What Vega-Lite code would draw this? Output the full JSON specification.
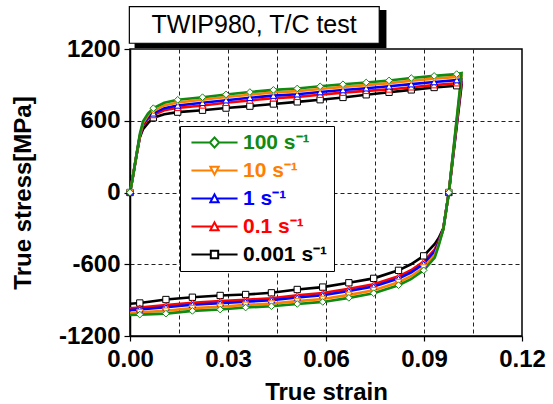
{
"$schema": "https://vega.github.io/schema/vega-lite/v6.json",
"width": 392, "height": 287,
"autosize": {"type": "none"},
"padding": {"left": 130, "top": 49, "right": 31, "bottom": 68},
"background": "white",
"config": {
  "font": "Liberation Sans",
  "view": {"stroke": "black", "strokeWidth": 1.5},
  "axis": {"domainColor": "black", "domainWidth": 1.5, "tickColor": "black", "tickWidth": 1.2,
    "labelFont": "Liberation Sans", "labelFontSize": 24, "labelFontWeight": "bold", "labelColor": "black",
    "titleFont": "Liberation Sans", "titleFontSize": 24, "titleFontWeight": "bold", "titleColor": "black",
    "gridColor": "#222222", "gridDash": [4, 3], "gridWidth": 1, "labelFlush": false, "labelOverlap": false, "labelBound": false}
},
"datasets": {
"curves": [
{"rate":"0.001 s\u207b\u00b9","strain":0,"stress":0},{"rate":"0.001 s\u207b\u00b9","strain":0.001,"stress":150},{"rate":"0.001 s\u207b\u00b9","strain":0.002,"stress":312},{"rate":"0.001 s\u207b\u00b9","strain":0.003,"stress":460},{"rate":"0.001 s\u207b\u00b9","strain":0.004,"stress":530},{"rate":"0.001 s\u207b\u00b9","strain":0.0055,"stress":580},{"rate":"0.001 s\u207b\u00b9","strain":0.00715,"stress":625},{"rate":"0.001 s\u207b\u00b9","strain":0.0105,"stress":655},{"rate":"0.001 s\u207b\u00b9","strain":0.0146,"stress":672},{"rate":"0.001 s\u207b\u00b9","strain":0.0222,"stress":688},{"rate":"0.001 s\u207b\u00b9","strain":0.0294,"stress":706},{"rate":"0.001 s\u207b\u00b9","strain":0.0367,"stress":722},{"rate":"0.001 s\u207b\u00b9","strain":0.0439,"stress":740},{"rate":"0.001 s\u207b\u00b9","strain":0.0512,"stress":758},{"rate":"0.001 s\u207b\u00b9","strain":0.0582,"stress":776},{"rate":"0.001 s\u207b\u00b9","strain":0.0652,"stress":795},{"rate":"0.001 s\u207b\u00b9","strain":0.0723,"stress":817},{"rate":"0.001 s\u207b\u00b9","strain":0.0793,"stress":838},{"rate":"0.001 s\u207b\u00b9","strain":0.0861,"stress":858},{"rate":"0.001 s\u207b\u00b9","strain":0.0931,"stress":878},{"rate":"0.001 s\u207b\u00b9","strain":0.1,"stress":893},{"rate":"0.001 s\u207b\u00b9","strain":0.1015,"stress":898},{"rate":"0.001 s\u207b\u00b9","strain":0.0976,"stress":0},{"rate":"0.001 s\u207b\u00b9","strain":0.0959,"stress":-300},{"rate":"0.001 s\u207b\u00b9","strain":0.0945,"stress":-380},{"rate":"0.001 s\u207b\u00b9","strain":0.0933,"stress":-430},{"rate":"0.001 s\u207b\u00b9","strain":0.0899,"stress":-530},{"rate":"0.001 s\u207b\u00b9","strain":0.086,"stress":-600},{"rate":"0.001 s\u207b\u00b9","strain":0.0822,"stress":-651},{"rate":"0.001 s\u207b\u00b9","strain":0.0746,"stress":-718},{"rate":"0.001 s\u207b\u00b9","strain":0.067,"stress":-755},{"rate":"0.001 s\u207b\u00b9","strain":0.059,"stress":-791},{"rate":"0.001 s\u207b\u00b9","strain":0.0512,"stress":-811},{"rate":"0.001 s\u207b\u00b9","strain":0.0433,"stress":-839},{"rate":"0.001 s\u207b\u00b9","strain":0.0354,"stress":-853},{"rate":"0.001 s\u207b\u00b9","strain":0.0276,"stress":-861},{"rate":"0.001 s\u207b\u00b9","strain":0.0191,"stress":-876},{"rate":"0.001 s\u207b\u00b9","strain":0.011,"stress":-895},{"rate":"0.001 s\u207b\u00b9","strain":0.003,"stress":-924},{"rate":"0.001 s\u207b\u00b9","strain":0,"stress":-930},
{"rate":"0.1 s\u207b\u00b9","strain":0,"stress":0},{"rate":"0.1 s\u207b\u00b9","strain":0.001,"stress":150},{"rate":"0.1 s\u207b\u00b9","strain":0.002,"stress":314},{"rate":"0.1 s\u207b\u00b9","strain":0.003,"stress":465},{"rate":"0.1 s\u207b\u00b9","strain":0.004,"stress":560},{"rate":"0.1 s\u207b\u00b9","strain":0.0055,"stress":615},{"rate":"0.1 s\u207b\u00b9","strain":0.00715,"stress":648},{"rate":"0.1 s\u207b\u00b9","strain":0.0105,"stress":688},{"rate":"0.1 s\u207b\u00b9","strain":0.0146,"stress":708},{"rate":"0.1 s\u207b\u00b9","strain":0.0222,"stress":728},{"rate":"0.1 s\u207b\u00b9","strain":0.0294,"stress":750},{"rate":"0.1 s\u207b\u00b9","strain":0.0367,"stress":770},{"rate":"0.1 s\u207b\u00b9","strain":0.0439,"stress":788},{"rate":"0.1 s\u207b\u00b9","strain":0.0512,"stress":800},{"rate":"0.1 s\u207b\u00b9","strain":0.0582,"stress":818},{"rate":"0.1 s\u207b\u00b9","strain":0.0652,"stress":835},{"rate":"0.1 s\u207b\u00b9","strain":0.0723,"stress":850},{"rate":"0.1 s\u207b\u00b9","strain":0.0793,"stress":862},{"rate":"0.1 s\u207b\u00b9","strain":0.0861,"stress":880},{"rate":"0.1 s\u207b\u00b9","strain":0.0931,"stress":898},{"rate":"0.1 s\u207b\u00b9","strain":0.1,"stress":914},{"rate":"0.1 s\u207b\u00b9","strain":0.1015,"stress":920},{"rate":"0.1 s\u207b\u00b9","strain":0.0976,"stress":0},{"rate":"0.1 s\u207b\u00b9","strain":0.0959,"stress":-304},{"rate":"0.1 s\u207b\u00b9","strain":0.0945,"stress":-406},{"rate":"0.1 s\u207b\u00b9","strain":0.0933,"stress":-476},{"rate":"0.1 s\u207b\u00b9","strain":0.0899,"stress":-578},{"rate":"0.1 s\u207b\u00b9","strain":0.086,"stress":-650},{"rate":"0.1 s\u207b\u00b9","strain":0.0822,"stress":-701},{"rate":"0.1 s\u207b\u00b9","strain":0.0746,"stress":-768},{"rate":"0.1 s\u207b\u00b9","strain":0.067,"stress":-805},{"rate":"0.1 s\u207b\u00b9","strain":0.059,"stress":-841},{"rate":"0.1 s\u207b\u00b9","strain":0.0512,"stress":-859},{"rate":"0.1 s\u207b\u00b9","strain":0.0433,"stress":-884},{"rate":"0.1 s\u207b\u00b9","strain":0.0354,"stress":-897},{"rate":"0.1 s\u207b\u00b9","strain":0.0276,"stress":-908},{"rate":"0.1 s\u207b\u00b9","strain":0.0191,"stress":-922},{"rate":"0.1 s\u207b\u00b9","strain":0.011,"stress":-942},{"rate":"0.1 s\u207b\u00b9","strain":0.003,"stress":-963},{"rate":"0.1 s\u207b\u00b9","strain":0,"stress":-968},
{"rate":"1 s\u207b\u00b9","strain":0,"stress":0},{"rate":"1 s\u207b\u00b9","strain":0.001,"stress":150},{"rate":"1 s\u207b\u00b9","strain":0.002,"stress":316},{"rate":"1 s\u207b\u00b9","strain":0.003,"stress":470},{"rate":"1 s\u207b\u00b9","strain":0.004,"stress":570},{"rate":"1 s\u207b\u00b9","strain":0.0055,"stress":628},{"rate":"1 s\u207b\u00b9","strain":0.00715,"stress":662},{"rate":"1 s\u207b\u00b9","strain":0.0105,"stress":705},{"rate":"1 s\u207b\u00b9","strain":0.0146,"stress":728},{"rate":"1 s\u207b\u00b9","strain":0.0222,"stress":750},{"rate":"1 s\u207b\u00b9","strain":0.0294,"stress":772},{"rate":"1 s\u207b\u00b9","strain":0.0367,"stress":792},{"rate":"1 s\u207b\u00b9","strain":0.0439,"stress":810},{"rate":"1 s\u207b\u00b9","strain":0.0512,"stress":822},{"rate":"1 s\u207b\u00b9","strain":0.0582,"stress":840},{"rate":"1 s\u207b\u00b9","strain":0.0652,"stress":857},{"rate":"1 s\u207b\u00b9","strain":0.0723,"stress":872},{"rate":"1 s\u207b\u00b9","strain":0.0793,"stress":888},{"rate":"1 s\u207b\u00b9","strain":0.0861,"stress":906},{"rate":"1 s\u207b\u00b9","strain":0.0931,"stress":924},{"rate":"1 s\u207b\u00b9","strain":0.1,"stress":940},{"rate":"1 s\u207b\u00b9","strain":0.1015,"stress":947},{"rate":"1 s\u207b\u00b9","strain":0.0976,"stress":0},{"rate":"1 s\u207b\u00b9","strain":0.0959,"stress":-306},{"rate":"1 s\u207b\u00b9","strain":0.0945,"stress":-416},{"rate":"1 s\u207b\u00b9","strain":0.0933,"stress":-493},{"rate":"1 s\u207b\u00b9","strain":0.0899,"stress":-597},{"rate":"1 s\u207b\u00b9","strain":0.086,"stress":-669},{"rate":"1 s\u207b\u00b9","strain":0.0822,"stress":-719},{"rate":"1 s\u207b\u00b9","strain":0.0746,"stress":-786},{"rate":"1 s\u207b\u00b9","strain":0.067,"stress":-824},{"rate":"1 s\u207b\u00b9","strain":0.059,"stress":-859},{"rate":"1 s\u207b\u00b9","strain":0.0512,"stress":-878},{"rate":"1 s\u207b\u00b9","strain":0.0433,"stress":-901},{"rate":"1 s\u207b\u00b9","strain":0.0354,"stress":-913},{"rate":"1 s\u207b\u00b9","strain":0.0276,"stress":-926},{"rate":"1 s\u207b\u00b9","strain":0.0191,"stress":-939},{"rate":"1 s\u207b\u00b9","strain":0.011,"stress":-960},{"rate":"1 s\u207b\u00b9","strain":0.003,"stress":-977},{"rate":"1 s\u207b\u00b9","strain":0,"stress":-982},
{"rate":"10 s\u207b\u00b9","strain":0,"stress":0},{"rate":"10 s\u207b\u00b9","strain":0.001,"stress":150},{"rate":"10 s\u207b\u00b9","strain":0.002,"stress":318},{"rate":"10 s\u207b\u00b9","strain":0.003,"stress":475},{"rate":"10 s\u207b\u00b9","strain":0.004,"stress":580},{"rate":"10 s\u207b\u00b9","strain":0.0055,"stress":645},{"rate":"10 s\u207b\u00b9","strain":0.00715,"stress":680},{"rate":"10 s\u207b\u00b9","strain":0.0105,"stress":728},{"rate":"10 s\u207b\u00b9","strain":0.0146,"stress":753},{"rate":"10 s\u207b\u00b9","strain":0.0222,"stress":775},{"rate":"10 s\u207b\u00b9","strain":0.0294,"stress":798},{"rate":"10 s\u207b\u00b9","strain":0.0367,"stress":818},{"rate":"10 s\u207b\u00b9","strain":0.0439,"stress":836},{"rate":"10 s\u207b\u00b9","strain":0.0512,"stress":848},{"rate":"10 s\u207b\u00b9","strain":0.0582,"stress":866},{"rate":"10 s\u207b\u00b9","strain":0.0652,"stress":883},{"rate":"10 s\u207b\u00b9","strain":0.0723,"stress":898},{"rate":"10 s\u207b\u00b9","strain":0.0793,"stress":915},{"rate":"10 s\u207b\u00b9","strain":0.0861,"stress":934},{"rate":"10 s\u207b\u00b9","strain":0.0931,"stress":952},{"rate":"10 s\u207b\u00b9","strain":0.1,"stress":967},{"rate":"10 s\u207b\u00b9","strain":0.1015,"stress":974},{"rate":"10 s\u207b\u00b9","strain":0.0976,"stress":0},{"rate":"10 s\u207b\u00b9","strain":0.0959,"stress":-308},{"rate":"10 s\u207b\u00b9","strain":0.0945,"stress":-432},{"rate":"10 s\u207b\u00b9","strain":0.0933,"stress":-522},{"rate":"10 s\u207b\u00b9","strain":0.0899,"stress":-627},{"rate":"10 s\u207b\u00b9","strain":0.086,"stress":-700},{"rate":"10 s\u207b\u00b9","strain":0.0822,"stress":-750},{"rate":"10 s\u207b\u00b9","strain":0.0746,"stress":-817},{"rate":"10 s\u207b\u00b9","strain":0.067,"stress":-856},{"rate":"10 s\u207b\u00b9","strain":0.059,"stress":-890},{"rate":"10 s\u207b\u00b9","strain":0.0512,"stress":-908},{"rate":"10 s\u207b\u00b9","strain":0.0433,"stress":-929},{"rate":"10 s\u207b\u00b9","strain":0.0354,"stress":-940},{"rate":"10 s\u207b\u00b9","strain":0.0276,"stress":-955},{"rate":"10 s\u207b\u00b9","strain":0.0191,"stress":-967},{"rate":"10 s\u207b\u00b9","strain":0.011,"stress":-989},{"rate":"10 s\u207b\u00b9","strain":0.003,"stress":-1002},{"rate":"10 s\u207b\u00b9","strain":0,"stress":-1006},
{"rate":"100 s\u207b\u00b9","strain":0,"stress":0},{"rate":"100 s\u207b\u00b9","strain":0.001,"stress":150},{"rate":"100 s\u207b\u00b9","strain":0.002,"stress":320},{"rate":"100 s\u207b\u00b9","strain":0.003,"stress":490},{"rate":"100 s\u207b\u00b9","strain":0.004,"stress":595},{"rate":"100 s\u207b\u00b9","strain":0.0055,"stress":660},{"rate":"100 s\u207b\u00b9","strain":0.00715,"stress":705},{"rate":"100 s\u207b\u00b9","strain":0.0105,"stress":750},{"rate":"100 s\u207b\u00b9","strain":0.0146,"stress":775},{"rate":"100 s\u207b\u00b9","strain":0.0222,"stress":797},{"rate":"100 s\u207b\u00b9","strain":0.0294,"stress":820},{"rate":"100 s\u207b\u00b9","strain":0.0367,"stress":840},{"rate":"100 s\u207b\u00b9","strain":0.0439,"stress":858},{"rate":"100 s\u207b\u00b9","strain":0.0512,"stress":870},{"rate":"100 s\u207b\u00b9","strain":0.0582,"stress":888},{"rate":"100 s\u207b\u00b9","strain":0.0652,"stress":905},{"rate":"100 s\u207b\u00b9","strain":0.0723,"stress":920},{"rate":"100 s\u207b\u00b9","strain":0.0793,"stress":937},{"rate":"100 s\u207b\u00b9","strain":0.0861,"stress":957},{"rate":"100 s\u207b\u00b9","strain":0.0931,"stress":975},{"rate":"100 s\u207b\u00b9","strain":0.1,"stress":990},{"rate":"100 s\u207b\u00b9","strain":0.1015,"stress":998},{"rate":"100 s\u207b\u00b9","strain":0.0976,"stress":0},{"rate":"100 s\u207b\u00b9","strain":0.0959,"stress":-310},{"rate":"100 s\u207b\u00b9","strain":0.0945,"stress":-445},{"rate":"100 s\u207b\u00b9","strain":0.0933,"stress":-545},{"rate":"100 s\u207b\u00b9","strain":0.0899,"stress":-651},{"rate":"100 s\u207b\u00b9","strain":0.086,"stress":-725},{"rate":"100 s\u207b\u00b9","strain":0.0822,"stress":-775},{"rate":"100 s\u207b\u00b9","strain":0.0746,"stress":-842},{"rate":"100 s\u207b\u00b9","strain":0.067,"stress":-881},{"rate":"100 s\u207b\u00b9","strain":0.059,"stress":-915},{"rate":"100 s\u207b\u00b9","strain":0.0512,"stress":-932},{"rate":"100 s\u207b\u00b9","strain":0.0433,"stress":-951},{"rate":"100 s\u207b\u00b9","strain":0.0354,"stress":-962},{"rate":"100 s\u207b\u00b9","strain":0.0276,"stress":-979},{"rate":"100 s\u207b\u00b9","strain":0.0191,"stress":-990},{"rate":"100 s\u207b\u00b9","strain":0.011,"stress":-1013},{"rate":"100 s\u207b\u00b9","strain":0.003,"stress":-1021},{"rate":"100 s\u207b\u00b9","strain":0,"stress":-1025}
],
"markers": [
{"rate":"0.001 s\u207b\u00b9","strain":0,"stress":0},{"rate":"0.001 s\u207b\u00b9","strain":0.00715,"stress":625},{"rate":"0.001 s\u207b\u00b9","strain":0.0146,"stress":672},{"rate":"0.001 s\u207b\u00b9","strain":0.0222,"stress":688},{"rate":"0.001 s\u207b\u00b9","strain":0.0294,"stress":706},{"rate":"0.001 s\u207b\u00b9","strain":0.0367,"stress":722},{"rate":"0.001 s\u207b\u00b9","strain":0.0439,"stress":740},{"rate":"0.001 s\u207b\u00b9","strain":0.0512,"stress":758},{"rate":"0.001 s\u207b\u00b9","strain":0.0582,"stress":776},{"rate":"0.001 s\u207b\u00b9","strain":0.0652,"stress":795},{"rate":"0.001 s\u207b\u00b9","strain":0.0723,"stress":817},{"rate":"0.001 s\u207b\u00b9","strain":0.0793,"stress":838},{"rate":"0.001 s\u207b\u00b9","strain":0.0861,"stress":858},{"rate":"0.001 s\u207b\u00b9","strain":0.0931,"stress":878},{"rate":"0.001 s\u207b\u00b9","strain":0.1,"stress":893},{"rate":"0.001 s\u207b\u00b9","strain":0.0976,"stress":0},{"rate":"0.001 s\u207b\u00b9","strain":0.0899,"stress":-530},{"rate":"0.001 s\u207b\u00b9","strain":0.0822,"stress":-651},{"rate":"0.001 s\u207b\u00b9","strain":0.0746,"stress":-718},{"rate":"0.001 s\u207b\u00b9","strain":0.067,"stress":-755},{"rate":"0.001 s\u207b\u00b9","strain":0.059,"stress":-791},{"rate":"0.001 s\u207b\u00b9","strain":0.0512,"stress":-811},{"rate":"0.001 s\u207b\u00b9","strain":0.0433,"stress":-839},{"rate":"0.001 s\u207b\u00b9","strain":0.0354,"stress":-853},{"rate":"0.001 s\u207b\u00b9","strain":0.0276,"stress":-861},{"rate":"0.001 s\u207b\u00b9","strain":0.0191,"stress":-876},{"rate":"0.001 s\u207b\u00b9","strain":0.011,"stress":-895},{"rate":"0.001 s\u207b\u00b9","strain":0.003,"stress":-924},
{"rate":"0.1 s\u207b\u00b9","strain":0,"stress":0},{"rate":"0.1 s\u207b\u00b9","strain":0.00715,"stress":648},{"rate":"0.1 s\u207b\u00b9","strain":0.0146,"stress":708},{"rate":"0.1 s\u207b\u00b9","strain":0.0222,"stress":728},{"rate":"0.1 s\u207b\u00b9","strain":0.0294,"stress":750},{"rate":"0.1 s\u207b\u00b9","strain":0.0367,"stress":770},{"rate":"0.1 s\u207b\u00b9","strain":0.0439,"stress":788},{"rate":"0.1 s\u207b\u00b9","strain":0.0512,"stress":800},{"rate":"0.1 s\u207b\u00b9","strain":0.0582,"stress":818},{"rate":"0.1 s\u207b\u00b9","strain":0.0652,"stress":835},{"rate":"0.1 s\u207b\u00b9","strain":0.0723,"stress":850},{"rate":"0.1 s\u207b\u00b9","strain":0.0793,"stress":862},{"rate":"0.1 s\u207b\u00b9","strain":0.0861,"stress":880},{"rate":"0.1 s\u207b\u00b9","strain":0.0931,"stress":898},{"rate":"0.1 s\u207b\u00b9","strain":0.1,"stress":914},{"rate":"0.1 s\u207b\u00b9","strain":0.0976,"stress":0},{"rate":"0.1 s\u207b\u00b9","strain":0.0899,"stress":-578},{"rate":"0.1 s\u207b\u00b9","strain":0.0822,"stress":-701},{"rate":"0.1 s\u207b\u00b9","strain":0.0746,"stress":-768},{"rate":"0.1 s\u207b\u00b9","strain":0.067,"stress":-805},{"rate":"0.1 s\u207b\u00b9","strain":0.059,"stress":-841},{"rate":"0.1 s\u207b\u00b9","strain":0.0512,"stress":-859},{"rate":"0.1 s\u207b\u00b9","strain":0.0433,"stress":-884},{"rate":"0.1 s\u207b\u00b9","strain":0.0354,"stress":-897},{"rate":"0.1 s\u207b\u00b9","strain":0.0276,"stress":-908},{"rate":"0.1 s\u207b\u00b9","strain":0.0191,"stress":-922},{"rate":"0.1 s\u207b\u00b9","strain":0.011,"stress":-942},{"rate":"0.1 s\u207b\u00b9","strain":0.003,"stress":-963},
{"rate":"1 s\u207b\u00b9","strain":0,"stress":0},{"rate":"1 s\u207b\u00b9","strain":0.00715,"stress":662},{"rate":"1 s\u207b\u00b9","strain":0.0146,"stress":728},{"rate":"1 s\u207b\u00b9","strain":0.0222,"stress":750},{"rate":"1 s\u207b\u00b9","strain":0.0294,"stress":772},{"rate":"1 s\u207b\u00b9","strain":0.0367,"stress":792},{"rate":"1 s\u207b\u00b9","strain":0.0439,"stress":810},{"rate":"1 s\u207b\u00b9","strain":0.0512,"stress":822},{"rate":"1 s\u207b\u00b9","strain":0.0582,"stress":840},{"rate":"1 s\u207b\u00b9","strain":0.0652,"stress":857},{"rate":"1 s\u207b\u00b9","strain":0.0723,"stress":872},{"rate":"1 s\u207b\u00b9","strain":0.0793,"stress":888},{"rate":"1 s\u207b\u00b9","strain":0.0861,"stress":906},{"rate":"1 s\u207b\u00b9","strain":0.0931,"stress":924},{"rate":"1 s\u207b\u00b9","strain":0.1,"stress":940},{"rate":"1 s\u207b\u00b9","strain":0.0976,"stress":0},{"rate":"1 s\u207b\u00b9","strain":0.0899,"stress":-597},{"rate":"1 s\u207b\u00b9","strain":0.0822,"stress":-719},{"rate":"1 s\u207b\u00b9","strain":0.0746,"stress":-786},{"rate":"1 s\u207b\u00b9","strain":0.067,"stress":-824},{"rate":"1 s\u207b\u00b9","strain":0.059,"stress":-859},{"rate":"1 s\u207b\u00b9","strain":0.0512,"stress":-878},{"rate":"1 s\u207b\u00b9","strain":0.0433,"stress":-901},{"rate":"1 s\u207b\u00b9","strain":0.0354,"stress":-913},{"rate":"1 s\u207b\u00b9","strain":0.0276,"stress":-926},{"rate":"1 s\u207b\u00b9","strain":0.0191,"stress":-939},{"rate":"1 s\u207b\u00b9","strain":0.011,"stress":-960},{"rate":"1 s\u207b\u00b9","strain":0.003,"stress":-977},
{"rate":"10 s\u207b\u00b9","strain":0,"stress":0},{"rate":"10 s\u207b\u00b9","strain":0.00715,"stress":680},{"rate":"10 s\u207b\u00b9","strain":0.0146,"stress":753},{"rate":"10 s\u207b\u00b9","strain":0.0222,"stress":775},{"rate":"10 s\u207b\u00b9","strain":0.0294,"stress":798},{"rate":"10 s\u207b\u00b9","strain":0.0367,"stress":818},{"rate":"10 s\u207b\u00b9","strain":0.0439,"stress":836},{"rate":"10 s\u207b\u00b9","strain":0.0512,"stress":848},{"rate":"10 s\u207b\u00b9","strain":0.0582,"stress":866},{"rate":"10 s\u207b\u00b9","strain":0.0652,"stress":883},{"rate":"10 s\u207b\u00b9","strain":0.0723,"stress":898},{"rate":"10 s\u207b\u00b9","strain":0.0793,"stress":915},{"rate":"10 s\u207b\u00b9","strain":0.0861,"stress":934},{"rate":"10 s\u207b\u00b9","strain":0.0931,"stress":952},{"rate":"10 s\u207b\u00b9","strain":0.1,"stress":967},{"rate":"10 s\u207b\u00b9","strain":0.0976,"stress":0},{"rate":"10 s\u207b\u00b9","strain":0.0899,"stress":-627},{"rate":"10 s\u207b\u00b9","strain":0.0822,"stress":-750},{"rate":"10 s\u207b\u00b9","strain":0.0746,"stress":-817},{"rate":"10 s\u207b\u00b9","strain":0.067,"stress":-856},{"rate":"10 s\u207b\u00b9","strain":0.059,"stress":-890},{"rate":"10 s\u207b\u00b9","strain":0.0512,"stress":-908},{"rate":"10 s\u207b\u00b9","strain":0.0433,"stress":-929},{"rate":"10 s\u207b\u00b9","strain":0.0354,"stress":-940},{"rate":"10 s\u207b\u00b9","strain":0.0276,"stress":-955},{"rate":"10 s\u207b\u00b9","strain":0.0191,"stress":-967},{"rate":"10 s\u207b\u00b9","strain":0.011,"stress":-989},{"rate":"10 s\u207b\u00b9","strain":0.003,"stress":-1002},
{"rate":"100 s\u207b\u00b9","strain":0,"stress":0},{"rate":"100 s\u207b\u00b9","strain":0.00715,"stress":705},{"rate":"100 s\u207b\u00b9","strain":0.0146,"stress":775},{"rate":"100 s\u207b\u00b9","strain":0.0222,"stress":797},{"rate":"100 s\u207b\u00b9","strain":0.0294,"stress":820},{"rate":"100 s\u207b\u00b9","strain":0.0367,"stress":840},{"rate":"100 s\u207b\u00b9","strain":0.0439,"stress":858},{"rate":"100 s\u207b\u00b9","strain":0.0512,"stress":870},{"rate":"100 s\u207b\u00b9","strain":0.0582,"stress":888},{"rate":"100 s\u207b\u00b9","strain":0.0652,"stress":905},{"rate":"100 s\u207b\u00b9","strain":0.0723,"stress":920},{"rate":"100 s\u207b\u00b9","strain":0.0793,"stress":937},{"rate":"100 s\u207b\u00b9","strain":0.0861,"stress":957},{"rate":"100 s\u207b\u00b9","strain":0.0931,"stress":975},{"rate":"100 s\u207b\u00b9","strain":0.1,"stress":990},{"rate":"100 s\u207b\u00b9","strain":0.0976,"stress":0},{"rate":"100 s\u207b\u00b9","strain":0.0899,"stress":-651},{"rate":"100 s\u207b\u00b9","strain":0.0822,"stress":-775},{"rate":"100 s\u207b\u00b9","strain":0.0746,"stress":-842},{"rate":"100 s\u207b\u00b9","strain":0.067,"stress":-881},{"rate":"100 s\u207b\u00b9","strain":0.059,"stress":-915},{"rate":"100 s\u207b\u00b9","strain":0.0512,"stress":-932},{"rate":"100 s\u207b\u00b9","strain":0.0433,"stress":-951},{"rate":"100 s\u207b\u00b9","strain":0.0354,"stress":-962},{"rate":"100 s\u207b\u00b9","strain":0.0276,"stress":-979},{"rate":"100 s\u207b\u00b9","strain":0.0191,"stress":-990},{"rate":"100 s\u207b\u00b9","strain":0.011,"stress":-1013},{"rate":"100 s\u207b\u00b9","strain":0.003,"stress":-1021}
]
},
"layer": [
{
  "data": {"name": "curves"},
  "mark": {"type": "line", "strokeWidth": 2.6, "interpolate": "linear"},
  "encoding": {
    "x": {"field": "strain", "type": "quantitative", "scale": {"domain": [0, 0.12], "nice": false, "zero": false},
      "axis": {"title": "True strain", "values": [0, 0.015, 0.03, 0.045, 0.06, 0.075, 0.09, 0.105, 0.12],
        "labelExpr": "round(datum.value*1000/15)%2==0 ? format(datum.value,'.2f') : ''",
        "tickSize": {"condition": {"test": "round(datum.value*1000/15)%2==0", "value": 5}, "value": 0},
        "gridOpacity": {"condition": {"test": "datum.value < 0.001 || datum.value > 0.119", "value": 0}, "value": 1},
        "labelPadding": 6, "titlePadding": 9}},
    "y": {"field": "stress", "type": "quantitative", "scale": {"domain": [-1200, 1200], "nice": false, "zero": false},
      "axis": {"title": "True stress[MPa]", "values": [-1200, -900, -600, -300, 0, 300, 600, 900, 1200],
        "labelExpr": "datum.value % 600 == 0 ? '' + datum.value : ''",
        "tickSize": {"condition": {"test": "datum.value % 600 == 0", "value": 6}, "value": 3},
        "gridOpacity": {"condition": {"test": "abs(datum.value) >= 1199", "value": 0}, "value": 1},
        "labelPadding": 4, "titlePadding": 23}},
    "color": {"field": "rate", "type": "nominal",
      "scale": {"domain": ["100 s\u207b\u00b9", "10 s\u207b\u00b9", "1 s\u207b\u00b9", "0.1 s\u207b\u00b9", "0.001 s\u207b\u00b9"],
        "range": ["#108a10", "#ff8000", "#0000ff", "#ff0000", "#000000"]},
      "legend": {"title": null, "orient": "none", "legendX": 50, "legendY": 77,
        "fillColor": "white", "strokeColor": "black", "padding": 6,
        "symbolSize": 340, "symbolStrokeWidth": 2, "symbolOffset": 18,
        "labelFont": "Liberation Sans", "labelFontSize": 21, "labelFontWeight": "bold", "labelOffset": 18,
        "rowPadding": 6,
        "encode": {
          "symbols": {"update": {
            "shape": {"signal": "['M-2.5,0H-0.5M0.5,0H2.5M0,-0.55L0.5,0L0,0.55L-0.5,0Z','M-2.5,0H-0.27M0.27,0H2.5M-0.45,-0.4L0.45,-0.4L0,0.45Z','M-2.5,0H-0.27M0.27,0H2.5M-0.45,0.4L0.45,0.4L0,-0.45Z','M-2.5,0H-0.27M0.27,0H2.5M-0.45,0.4L0.45,0.4L0,-0.45Z','M-2.5,0H-0.4M0.4,0H2.5M-0.4,-0.4H0.4V0.4H-0.4Z'][indexof(domain('color'), datum.value)]"},
            "fill": {"value": "white"},
            "stroke": {"scale": "color", "field": "value"},
            "strokeWidth": {"value": 2},
            "size": {"value": 340},
            "opacity": {"value": 1}}},
          "labels": {"update": {"fill": {"scale": "color", "field": "value"}}}
        }}},
    "order": {"value": null}
  }
},
{
  "data": {"name": "markers"},
  "transform": [{"filter": "datum.rate == '0.001 s\u207b\u00b9'"}],
  "mark": {"type": "point", "shape": "square", "filled": false, "fill": "white", "fillOpacity": 1, "size": 40, "strokeWidth": 1, "opacity": 1},
  "encoding": {
    "x": {"field": "strain", "type": "quantitative", "scale": {"domain": [0, 0.12], "nice": false, "zero": false}},
    "y": {"field": "stress", "type": "quantitative", "scale": {"domain": [-1200, 1200], "nice": false, "zero": false}},
    "color": {"field": "rate", "type": "nominal"}
  }
},
{
  "data": {"name": "markers"},
  "transform": [{"filter": "datum.rate == '0.1 s\u207b\u00b9' || datum.rate == '1 s\u207b\u00b9'"}],
  "mark": {"type": "point", "shape": "triangle-up", "filled": false, "fill": "white", "fillOpacity": 1, "size": 40, "strokeWidth": 1, "opacity": 1},
  "encoding": {
    "x": {"field": "strain", "type": "quantitative", "scale": {"domain": [0, 0.12], "nice": false, "zero": false}},
    "y": {"field": "stress", "type": "quantitative", "scale": {"domain": [-1200, 1200], "nice": false, "zero": false}},
    "color": {"field": "rate", "type": "nominal"}
  }
},
{
  "data": {"name": "markers"},
  "transform": [{"filter": "datum.rate == '10 s\u207b\u00b9'"}],
  "mark": {"type": "point", "shape": "triangle-down", "filled": false, "fill": "white", "fillOpacity": 1, "size": 40, "strokeWidth": 1, "opacity": 1},
  "encoding": {
    "x": {"field": "strain", "type": "quantitative", "scale": {"domain": [0, 0.12], "nice": false, "zero": false}},
    "y": {"field": "stress", "type": "quantitative", "scale": {"domain": [-1200, 1200], "nice": false, "zero": false}},
    "color": {"field": "rate", "type": "nominal"}
  }
},
{
  "data": {"name": "markers"},
  "transform": [{"filter": "datum.rate == '100 s\u207b\u00b9'"}],
  "mark": {"type": "point", "shape": "diamond", "filled": false, "fill": "white", "fillOpacity": 1, "size": 45, "strokeWidth": 1, "opacity": 1},
  "encoding": {
    "x": {"field": "strain", "type": "quantitative", "scale": {"domain": [0, 0.12], "nice": false, "zero": false}},
    "y": {"field": "stress", "type": "quantitative", "scale": {"domain": [-1200, 1200], "nice": false, "zero": false}},
    "color": {"field": "rate", "type": "nominal"}
  }
},
{
  "data": {"values": [{}]},
  "mark": {"type": "rect", "fill": "black"},
  "encoding": {
    "x": {"datum": 0.0014, "type": "quantitative", "scale": {"domain": [0, 0.12], "nice": false, "zero": false}},
    "x2": {"datum": 0.0785},
    "y": {"datum": 1526, "type": "quantitative", "scale": {"domain": [-1200, 1200], "nice": false, "zero": false}},
    "y2": {"datum": 1208}
  }
},
{
  "data": {"values": [{}]},
  "mark": {"type": "rect", "fill": "white", "stroke": "black", "strokeWidth": 1.2},
  "encoding": {
    "x": {"datum": -0.0002, "type": "quantitative", "scale": {"domain": [0, 0.12], "nice": false, "zero": false}},
    "x2": {"datum": 0.0763},
    "y": {"datum": 1554, "type": "quantitative", "scale": {"domain": [-1200, 1200], "nice": false, "zero": false}},
    "y2": {"datum": 1248}
  }
},
{
  "data": {"values": [{}]},
  "mark": {"type": "text", "text": "TWIP980, T/C test", "font": "Liberation Sans", "fontSize": 25, "align": "center", "baseline": "middle", "color": "black"},
  "encoding": {
    "x": {"datum": 0.038, "type": "quantitative", "scale": {"domain": [0, 0.12], "nice": false, "zero": false}},
    "y": {"datum": 1400, "type": "quantitative", "scale": {"domain": [-1200, 1200], "nice": false, "zero": false}}
  }
}
]
}
